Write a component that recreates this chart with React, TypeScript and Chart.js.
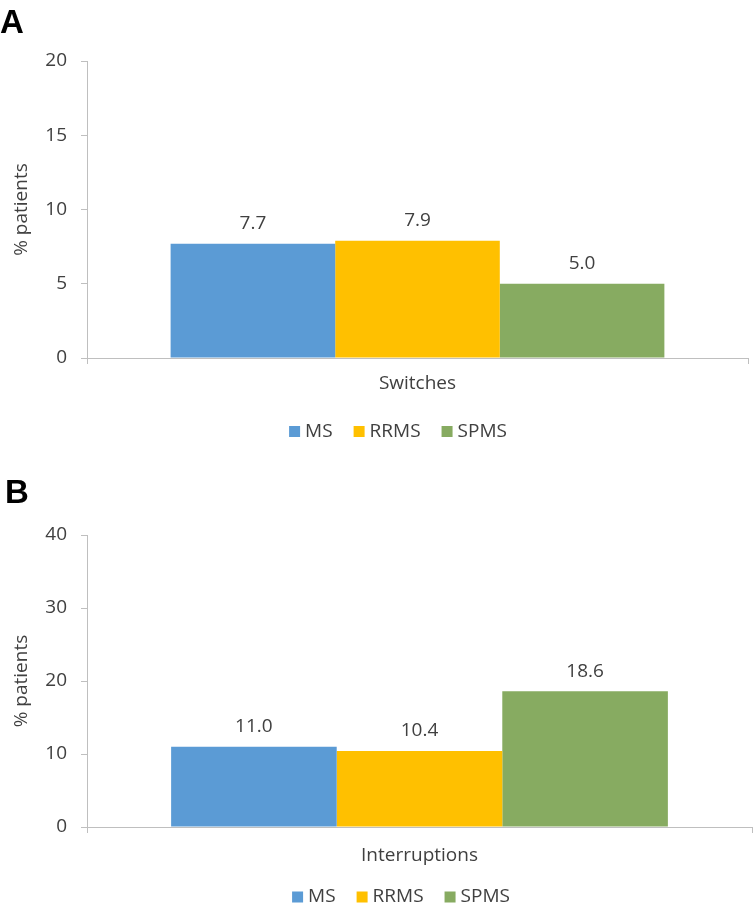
import React, { useEffect, useRef } from "react";
import { Chart, registerables } from "chart.js";

Chart.register(...registerables);

// ---- data ----
const seriesNames = ["MS", "RRMS", "SPMS"];
const seriesColors = ["#5B9BD5", "#FFC000", "#87AB61"];

const switchesCategories = ["Switches"];
const switchesValues = [7.7, 7.9, 5.0];
const switchesTicks = [0, 5, 10, 15, 20];

const interruptionsCategories = ["Interruptions"];
const interruptionsValues = [11.0, 10.4, 18.6];
const interruptionsTicks = [0, 10, 20, 30, 40];

const yAxisTitle = "% patients";
const panelLetters = ["A", "B"];

// ---- style ----
const FONT = "'Open Sans', 'DejaVu Sans', sans-serif";
const FONT_SIZE = 19;
const TEXT = "#404040";
const AXIS = "#BFBFBF";

const valueLabels = {
  id: "valueLabels",
  afterDatasetsDraw(chart: any) {
    const ctx = chart.ctx;
    ctx.save();
    ctx.font = `${FONT_SIZE}px ${FONT}`;
    ctx.fillStyle = TEXT;
    ctx.textAlign = "center";
    ctx.textBaseline = "middle";
    chart.data.datasets.forEach((ds: any, i: number) => {
      const meta = chart.getDatasetMeta(i);
      meta.data.forEach((el: any, j: number) => {
        const v = ds.data[j] as number;
        ctx.fillText(v.toFixed(1), el.x, el.y - 20);
      });
    });
    ctx.restore();
  },
};

// legend drawn on the canvas, centred at (cx, cy)
const customLegend = {
  id: "customLegend",
  afterDraw(chart: any, _args: any, opts: any) {
    const ctx = chart.ctx;
    const box = 11;
    const gap = 5;
    const spacing = 21;
    ctx.save();
    ctx.font = `${FONT_SIZE}px ${FONT}`;
    ctx.textBaseline = "middle";
    ctx.textAlign = "left";
    const items = chart.data.datasets.map((ds: any) => ({
      label: ds.label as string,
      color: ds.backgroundColor as string,
      w: ctx.measureText(ds.label).width,
    }));
    const total =
      items.reduce((s: number, it: any) => s + box + gap + it.w, 0) +
      spacing * (items.length - 1);
    let x = opts.cx - total / 2;
    const cy = opts.cy;
    items.forEach((it: any) => {
      ctx.fillStyle = it.color;
      ctx.fillRect(x, cy - box / 2, box, box);
      x += box + gap;
      ctx.fillStyle = TEXT;
      ctx.fillText(it.label, x, cy);
      x += it.w + spacing;
    });
    ctx.restore();
  },
};

type PanelProps = {
  categories: string[];
  values: number[];
  ticks: number[];
  top: number;
  height: number;
  padTop: number;
  padRight: number;
  padBottom: number;
  xTickPad: number;
  legendX: number;
  legendY: number;
};

function Panel(p: PanelProps) {
  const ref = useRef<HTMLCanvasElement | null>(null);
  useEffect(() => {
    if (!ref.current) return;
    const max = p.ticks[p.ticks.length - 1];
    const step = p.ticks[1] - p.ticks[0];
    const chart = new Chart(ref.current, {
      type: "bar",
      data: {
        labels: p.categories,
        datasets: seriesNames.map((name, i) => ({
          label: name,
          data: [p.values[i]],
          backgroundColor: seriesColors[i],
          borderWidth: 0,
          categoryPercentage: 0.747,
          barPercentage: 1,
        })),
      },
      options: {
        responsive: false,
        animation: false,
        layout: {
          padding: { top: p.padTop, right: p.padRight, left: 0, bottom: p.padBottom },
        },
        plugins: {
          legend: { display: false },
          tooltip: { enabled: false },
          title: { display: false },
          customLegend: { cx: p.legendX, cy: p.legendY },
        } as any,
        scales: {
          x: {
            type: "category",
            grid: {
              display: true,
              drawOnChartArea: false,
              offset: true,
              tickLength: 6,
              color: AXIS,
            },
            border: { display: true, color: AXIS, width: 1 },
            ticks: {
              color: TEXT,
              padding: p.xTickPad,
              font: { family: FONT, size: FONT_SIZE },
            },
            afterFit: (scale: any) => {
              scale.height = 40;
            },
          },
          y: {
            min: 0,
            max: max,
            ticks: {
              stepSize: step,
              color: TEXT,
              padding: 14,
              font: { family: FONT, size: FONT_SIZE },
            },
            grid: {
              display: true,
              drawOnChartArea: false,
              tickLength: 6,
              color: AXIS,
            },
            border: { display: true, color: AXIS, width: 1 },
            title: {
              display: true,
              text: yAxisTitle,
              color: TEXT,
              padding: { top: 10, bottom: 0 },
              font: { family: FONT, size: FONT_SIZE },
            },
            afterFit: (scale: any) => {
              scale.width = 87;
            },
          },
        },
      },
      plugins: [valueLabels, customLegend],
    });
    return () => chart.destroy();
  }, []);
  return (
    <canvas
      ref={ref}
      width={754}
      height={p.height}
      style={{ position: "absolute", left: 0, top: p.top, width: 754, height: p.height }}
    />
  );
}

const letterStyle = (left: number, top: number): React.CSSProperties => ({
  position: "absolute",
  left,
  top,
  fontFamily: "'Liberation Sans', Arial, sans-serif",
  fontWeight: "bold",
  fontSize: 33,
  lineHeight: 1,
  color: "#000",
});

export default function App() {
  return (
    <div
      style={{
        position: "absolute",
        left: 0,
        top: 0,
        width: 754,
        height: 904,
        overflow: "hidden",
        background: "#fff",
      }}
    >
      <Panel
        categories={switchesCategories}
        values={switchesValues}
        ticks={switchesTicks}
        top={0}
        height={460}
        padTop={61}
        padRight={6}
        padBottom={62}
        xTickPad={8}
        legendX={398}
        legendY={431.5}
      />
      <Panel
        categories={interruptionsCategories}
        values={interruptionsValues}
        ticks={interruptionsTicks}
        top={470}
        height={434}
        padTop={65}
        padRight={2}
        padBottom={37}
        xTickPad={11}
        legendX={401}
        legendY={427}
      />
      <div style={letterStyle(0, 5)}>{panelLetters[0]}</div>
      <div style={letterStyle(5, 475)}>{panelLetters[1]}</div>
    </div>
  );
}
